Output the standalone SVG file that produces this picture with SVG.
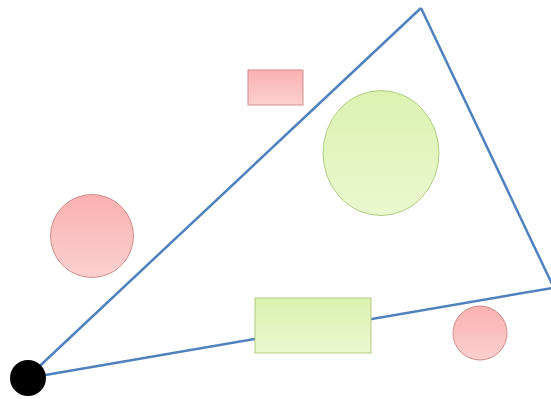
<svg xmlns="http://www.w3.org/2000/svg" width="551" height="399" viewBox="0 0 551 399">
<defs>
<linearGradient id="pink" x1="0" y1="0" x2="0" y2="1">
<stop offset="0" stop-color="#f9b1b0"/>
<stop offset="1" stop-color="#fcd0cf"/>
</linearGradient>
<linearGradient id="green" x1="0" y1="0" x2="0" y2="1">
<stop offset="0" stop-color="#dbf2b0"/>
<stop offset="1" stop-color="#ebf8cf"/>
</linearGradient>
</defs>
<style>
.pink{fill:url(#pink);stroke:#cf8e8c;stroke-width:1}
.green{fill:url(#green);stroke:#b0cd82;stroke-width:1}
.edge{stroke:#4f81bd;stroke-width:2.5;fill:none}
</style>
<rect width="551" height="399" fill="#ffffff"/>
<g id="connectors">
<line class="edge" x1="28" y1="377" x2="421" y2="8"/>
<line class="edge" x1="421" y1="8" x2="552" y2="284"/>
<line class="edge" x1="28" y1="378" x2="552" y2="288"/>
</g>
<g id="pink-rect"><rect class="pink" x="248" y="70" width="55" height="35"/></g>
<g id="pink-circle-left"><circle class="pink" cx="92" cy="236" r="41.5"/></g>
<g id="green-ellipse"><ellipse class="green" cx="381" cy="153" rx="58" ry="62.5"/></g>
<g id="green-rect"><rect class="green" x="255" y="298" width="116" height="55"/></g>
<g id="pink-circle-right"><circle class="pink" cx="480" cy="333" r="27"/></g>
<g id="origin"><circle cx="28" cy="378" r="18" fill="#000000"/></g>
</svg>
